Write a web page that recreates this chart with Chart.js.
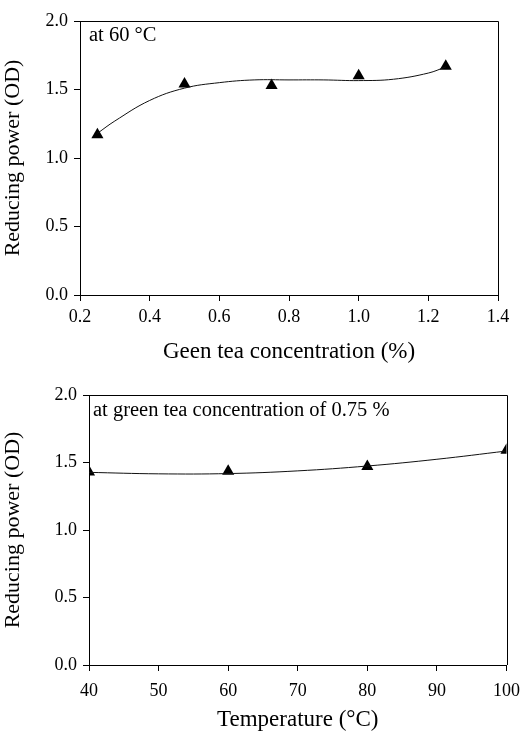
<!DOCTYPE html>
<html lang="en">
<head>
    <meta charset="UTF-8">
    <title>Reducing power</title>
    <script src="https://cdn.jsdelivr.net/npm/chart.js"></script>
    <style>
        body { margin: 0; background: #fff; }
        #wrap { position: relative; width: 529px; height: 731px; }
        canvas { position: absolute; left: 0; }
    </style>
</head>
<body>
<div id="wrap">
    <canvas id="concChart" width="529" height="370" style="top:0"></canvas>
    <canvas id="tempChart" width="529" height="361" style="top:370px"></canvas>
</div>

<script>
    // top panel: green tea concentration at 60 °C
    const concX = [0.25, 0.5, 0.75, 1.0, 1.25];
    const concY = [1.17, 1.54, 1.53, 1.60, 1.67];
    // trend line
    const concFitX = [0.25, 0.3, 0.4, 0.5, 0.6, 0.7, 0.8, 0.9, 1.0, 1.1, 1.2, 1.25];
    const concFitY = [1.18, 1.27, 1.42, 1.51, 1.55, 1.57, 1.57, 1.57, 1.565, 1.575, 1.62, 1.665];

    // bottom panel: temperature at 0.75 % green tea
    const tempX = [40, 60, 80, 100];
    const tempY = [1.43, 1.435, 1.47, 1.59];
    const tempFitX = [40, 50, 60, 70, 80, 90, 100];
    const tempFitY = [1.427, 1.416, 1.418, 1.438, 1.474, 1.524, 1.585];

    const serif = "'Liberation Serif', 'Times New Roman', serif";

    // box on top/right + the note in the corner
    const framePlugin = {
        id: 'frame',
        afterDraw(chart, args, opts) {
            const ctx = chart.ctx;
            const a = chart.chartArea;
            ctx.save();
            ctx.strokeStyle = '#000';
            ctx.lineWidth = 1;
            ctx.beginPath();
            ctx.moveTo(a.left, Math.round(a.top) + 0.5);
            ctx.lineTo(Math.round(a.right) + 0.5, Math.round(a.top) + 0.5);
            ctx.lineTo(Math.round(a.right) + 0.5, a.bottom);
            ctx.stroke();
            ctx.fillStyle = '#000';
            ctx.font = '20.5px ' + serif;
            ctx.textBaseline = 'middle';
            ctx.fillText(opts.text, a.left + opts.dx, a.top + opts.dy);
            ctx.restore();
        }
    };

    function pairs(xs, ys) {
        return xs.map((x, i) => ({ x: x, y: ys[i] }));
    }

    function makeChart(id, cfg) {
        const ctx = document.getElementById(id).getContext('2d');
        return new Chart(ctx, {
            type: 'scatter',
            data: {
                datasets: [
                    {
                        data: pairs(cfg.fitX, cfg.fitY),
                        showLine: true,
                        borderColor: '#111',
                        borderWidth: 1,
                        pointRadius: 0,
                        tension: 0.4
                    },
                    {
                        data: pairs(cfg.x, cfg.y),
                        pointStyle: 'triangle',
                        pointRadius: 7,
                        backgroundColor: '#000',
                        borderColor: '#000',
                        borderWidth: 0
                    }
                ]
            },
            options: {
                responsive: false,
                animation: false,
                layout: { padding: cfg.padding },
                plugins: {
                    legend: { display: false },
                    tooltip: { enabled: false },
                    frame: cfg.note
                },
                scales: {
                    x: {
                        type: 'linear',
                        min: cfg.xMin,
                        max: cfg.xMax,
                        afterFit: s => { s.height = cfg.xHeight; },
                        border: { display: true, color: '#000', width: 1 },
                        grid: { drawOnChartArea: false, drawTicks: true, tickLength: 6, color: '#000' },
                        ticks: {
                            stepSize: cfg.xStep,
                            padding: cfg.xTickPad,
                            color: '#000',
                            font: { family: serif, size: 18 },
                            callback: cfg.xFmt
                        },
                        title: {
                            display: true,
                            text: cfg.xTitle,
                            color: '#000',
                            font: { family: serif, size: 23, lineHeight: 1 },
                            padding: { top: 0, bottom: cfg.xTitlePad }
                        }
                    },
                    y: {
                        min: 0,
                        max: 2,
                        afterFit: s => { s.width = cfg.yWidth; },
                        border: { display: true, color: '#000', width: 1 },
                        grid: { drawOnChartArea: false, drawTicks: true, tickLength: 6, color: '#000' },
                        ticks: {
                            stepSize: 0.5,
                            padding: 6,
                            color: '#000',
                            font: { family: serif, size: 18 },
                            callback: v => v.toFixed(1)
                        },
                        title: {
                            display: true,
                            text: 'Reducing power (OD)',
                            color: '#000',
                            font: { family: serif, size: 22 },
                            padding: { top: 0, bottom: cfg.yTitlePad }
                        }
                    }
                }
            },
            plugins: [framePlugin]
        });
    }

    makeChart('concChart', {
        x: concX, y: concY, fitX: concFitX, fitY: concFitY,
        xMin: 0.2, xMax: 1.4, xStep: 0.2,
        xFmt: v => v.toFixed(1),
        xTitle: 'Geen tea concentration (%)',
        padding: { top: 21, right: 31, bottom: 0, left: 0 },
        xHeight: 75, yWidth: 80,
        xTickPad: 5, xTitlePad: 7, yTitlePad: 4,
        note: { text: 'at 60 °C', dx: 9, dy: 15 }
    });

    makeChart('tempChart', {
        x: tempX, y: tempY, fitX: tempFitX, fitY: tempFitY,
        xMin: 40, xMax: 100, xStep: 10,
        xFmt: v => v,
        xTitle: 'Temperature (°C)',
        padding: { top: 25, right: 22, bottom: 0, left: 0 },
        xHeight: 66, yWidth: 89,
        xTickPad: 9, xTitlePad: 0, yTitlePad: 4,
        note: { text: 'at green tea concentration of 0.75 %', dx: 4, dy: 16 }
    });
</script>
</body>
</html>
